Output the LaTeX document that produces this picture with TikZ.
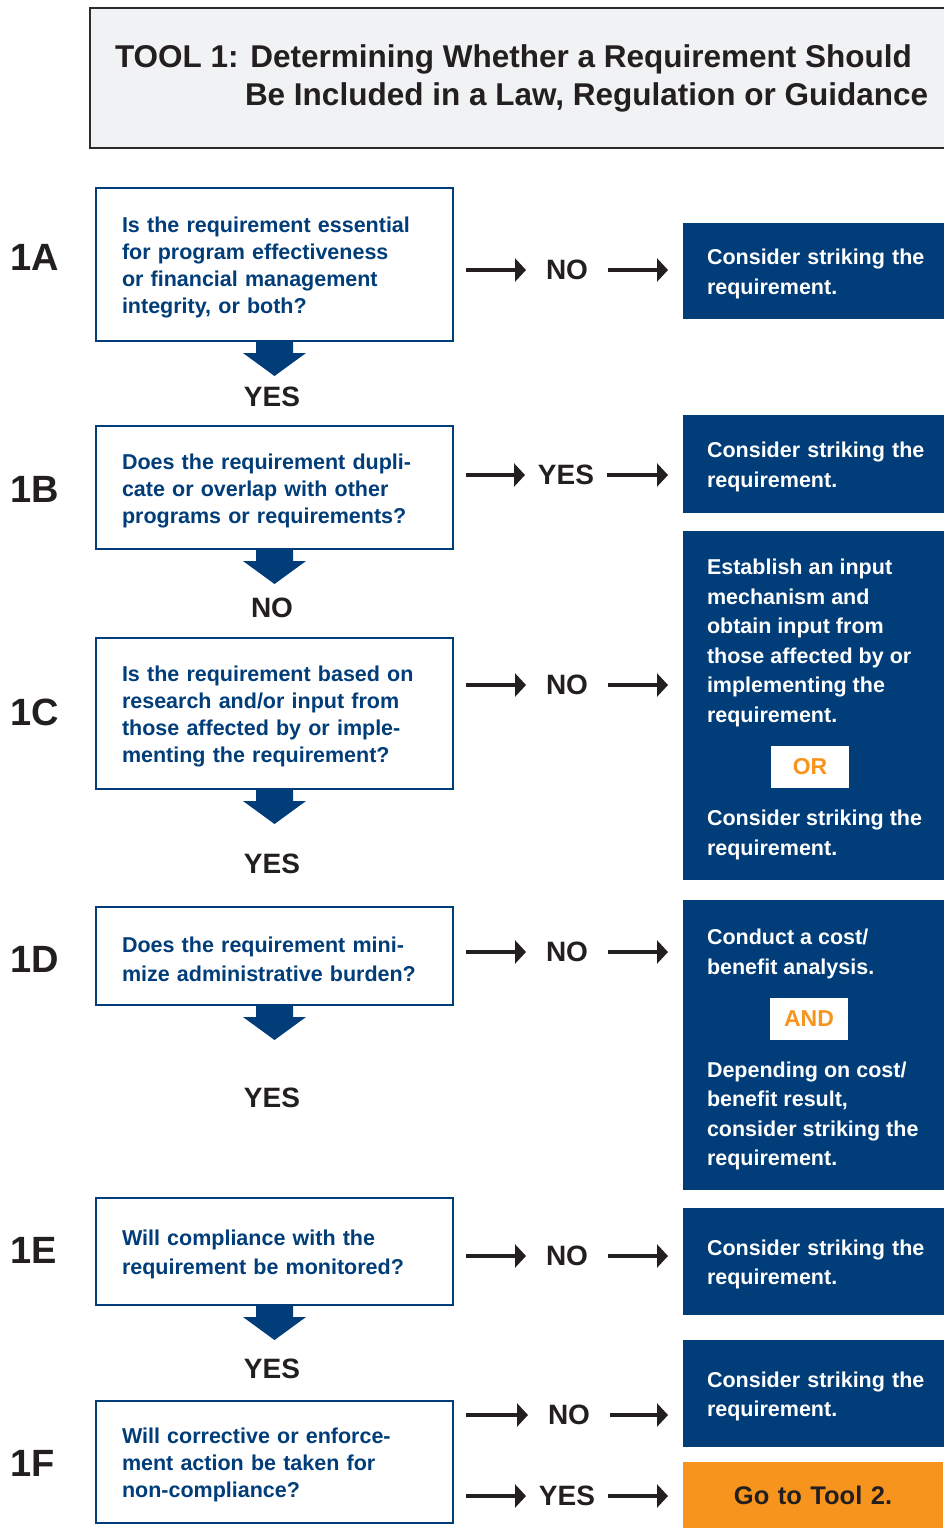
\documentclass[tikz,border=0pt]{standalone}
\usepackage{fontspec}
\setmainfont{Liberation Sans}
\usetikzlibrary{arrows.meta}
\definecolor{gaoblue}{HTML}{003D79}
\definecolor{gaoorange}{HTML}{F7941D}
\definecolor{ink}{HTML}{231F20}
\definecolor{titlegray}{HTML}{F1F2F3}
\definecolor{titleframe}{HTML}{2B2B2B}
\newcommand\mylowerend{\endgraf\vspace*{-6pt}}
\begin{document}
\begin{tikzpicture}[x=1pt,y=-1pt,
  every node/.style={outer sep=0pt},
  lowered/.style={execute at end node={\mylowerend}},
  qbox/.style={draw=gaoblue, line width=2.5pt, fill=white, minimum width=357pt,
    text width=305pt, inner xsep=26pt, inner ysep=0pt, align=left, text=gaoblue,
    font=\fontsize{21.5}{27}\selectfont\bfseries, anchor=north west, lowered},
  rbox/.style={fill=gaoblue, minimum width=275pt, text width=230pt, inner xsep=24pt,
    inner ysep=0pt, align=left, text=white,
    font=\fontsize{21.5}{29.5}\selectfont\bfseries, anchor=north west},
  rtext/.style={text=white, align=left, anchor=west, inner sep=0pt,
    font=\fontsize{21.5}{29.5}\selectfont\bfseries},
  stepid/.style={text=ink, font=\fontsize{38}{40}\selectfont\bfseries, anchor=west, inner sep=0pt},
  answer/.style={text=ink, font=\fontsize{28}{30}\selectfont\bfseries, inner sep=0pt, minimum width=80pt},
  downlabel/.style={text=ink, font=\fontsize{28}{30}\selectfont\bfseries, inner sep=0pt},
  tagbox/.style={fill=white, text=gaoorange, font=\fontsize{23}{25}\selectfont\bfseries,
    minimum width=78pt, minimum height=42pt, inner sep=0pt},
  rarr/.style={draw=ink, line width=3.5pt, -{Triangle[length=11pt,width=23pt]}},
  downarr/.pic={\fill[gaoblue] (-18.5,0) -- (18.5,0) -- (18.5,12) -- (31.5,12) -- (0,35)
    -- (-31.5,12) -- (-18.5,12) -- cycle;}
]
\useasboundingbox (0,0) rectangle (943,1528);
\fill[white] (0,0) rectangle (943,1528);

% title
\node[draw=titleframe, line width=2pt, fill=titlegray, minimum width=870pt, minimum height=140pt,
  anchor=north west] (title) at (90,8) {};
\node[anchor=west, align=left, inner sep=0pt, text=ink,
  font=\fontsize{31.5}{38}\selectfont\bfseries] (titletext) at (115,78)
  {TOOL 1: Determining Whether a Requirement Should\\
   \hspace*{130pt}Be Included in a Law, Regulation or Guidance};

% step ids
\node[stepid] (id1A) at (10,257) {1A};
\node[stepid] (id1B) at (10,489) {1B};
\node[stepid] (id1C) at (10,712) {1C};
\node[stepid] (id1D) at (10,959) {1D};
\node[stepid] (id1E) at (10,1250) {1E};
\node[stepid] (id1F) at (10,1463) {1F};

% question boxes
\node[qbox, minimum height=153pt] (q1) at (96,188)
  {Is the requirement essential\\for program effectiveness\\or financial management\\integrity, or both?};
\node[qbox, minimum height=123pt] (q2) at (96,426)
  {Does the requirement dupli-\\cate or overlap with other\\programs or requirements?};
\node[qbox, minimum height=151pt] (q3) at (96,638)
  {Is the requirement based on\\research and/or input from\\those affected by or imple-\\menting the requirement?};
\node[qbox, minimum height=98pt, font=\fontsize{21.5}{29}\selectfont\bfseries] (q4) at (96,907)
  {Does the requirement mini-\\mize administrative burden?};
\node[qbox, minimum height=107pt, font=\fontsize{21.5}{29}\selectfont\bfseries] (q5) at (96,1198)
  {Will compliance with the\\requirement be monitored?};
\node[qbox, minimum height=122pt] (q6) at (96,1401)
  {Will corrective or enforce-\\ment action be taken for\\non-compliance?};

% down arrows and labels
\pic at (q1.south) {downarr};
\node[downlabel] (d1) at (272,397) {YES};
\pic at (q2.south) {downarr};
\node[downlabel] (d2) at (272,608) {NO};
\pic at (q3.south) {downarr};
\node[downlabel] (d3) at (272,864) {YES};
\pic at (q4.south) {downarr};
\node[downlabel] (d4) at (272,1098) {YES};
\pic at (q5.south) {downarr};
\node[downlabel] (d5) at (272,1369) {YES};

% right result boxes
\node[rbox, lowered, minimum height=96pt] (r1) at (683,223) {Consider striking the\\requirement.};
\node[rbox, lowered, minimum height=98pt] (r2) at (683,415) {Consider striking the\\requirement.};
\node[rbox, minimum height=349pt] (r3) at (683,531) {};
\node[rtext] (r3a) at (707,643) {Establish an input\\mechanism and\\obtain input from\\those affected by or\\implementing the\\requirement.};
\node[tagbox] (or) at (810,767) {OR};
\node[rtext] (r3b) at (707,835) {Consider striking the\\requirement.};
\node[rbox, minimum height=290pt] (r4) at (683,900) {};
\node[rtext] (r4a) at (707,954) {Conduct a cost/\\benefit analysis.};
\node[tagbox] (and) at (809,1019) {AND};
\node[rtext] (r4b) at (707,1116) {Depending on cost/\\benefit result,\\consider striking the\\requirement.};
\node[rbox, lowered, minimum height=107pt] (r5) at (683,1208) {Consider striking the\\requirement.};
\node[rbox, lowered, minimum height=107pt] (r6) at (683,1340) {Consider striking the\\requirement.};
\node[rbox, minimum height=66pt, minimum width=260pt, fill=gaoorange, text=ink, align=center,
  text width=212pt, font=\fontsize{25.5}{28}\selectfont\bfseries] (r7) at (683,1462) {Go to Tool 2.};

% answer labels and horizontal arrows
\node[answer] (a1) at (567,270) {NO};
\node[answer] (a2) at (566,475) {YES};
\node[answer] (a3) at (567,685) {NO};
\node[answer] (a4) at (567,952) {NO};
\node[answer] (a5) at (567,1256) {NO};
\node[answer] (a6) at (569,1415) {NO};
\node[answer] (a7) at (567,1496) {YES};

\foreach \q/\a/\r in {q1/a1/r1, q2/a2/r2, q3/a3/r3, q4/a4/r4, q5/a5/r5, q6/a6/r6, q6/a7/r7}{
  \draw[rarr] ([xshift=13pt]\q.east |- \a) -- ([xshift=-1pt]\a.west);
  \draw[rarr] ([xshift=1pt]\a.east) -- ([xshift=-15pt]\r.west |- \a);
}
\end{tikzpicture}
\end{document}
